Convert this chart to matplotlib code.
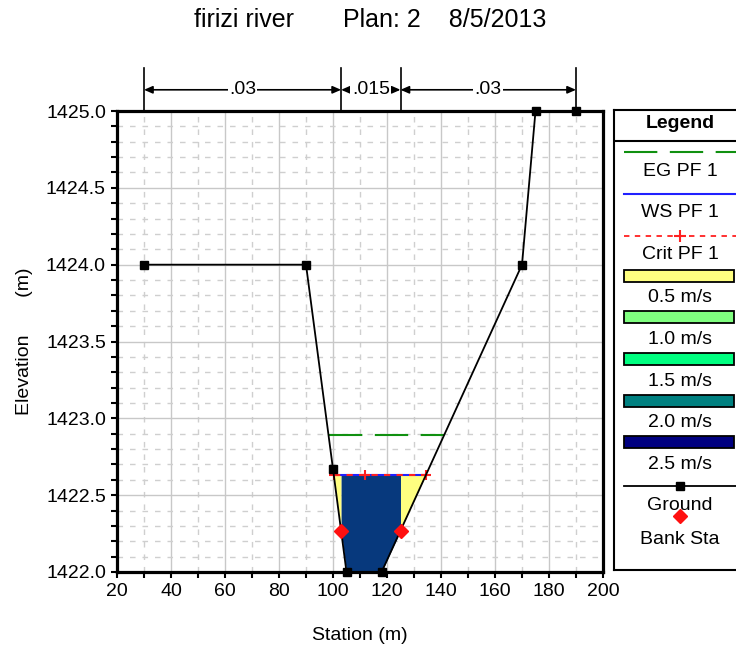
import numpy as np
import matplotlib.pyplot as plt
import matplotlib.transforms as mtransforms
from matplotlib.patches import Rectangle

plt.rcParams['font.family'] = ['Liberation Sans', 'DejaVu Sans']

# cross section data (station m, elevation m)
ground_x = [30, 90, 100, 105, 118, 170, 175, 190]
ground_y = [1424.0, 1424.0, 1422.67, 1422.0, 1422.0, 1424.0, 1425.0, 1425.0]
bank_x = [103, 125]
eg_elev = 1422.89
ws_elev = 1422.63
crit_elev = 1422.63
crit_marks = [112]
n_values = ['.03', '.015', '.03']

legend_labels = ['EG PF 1', 'WS PF 1', 'Crit PF 1', '0.5 m/s', '1.0 m/s',
                 '1.5 m/s', '2.0 m/s', '2.5 m/s', 'Ground', 'Bank Sta']
vel_colors = ['#ffff80', '#80ff80', '#00ff80', '#008080', '#000080']
channel_color = '#07397d'

gx = np.array(ground_x, dtype=float)
gy = np.array(ground_y, dtype=float)
bank_y = np.interp(bank_x, gx, gy)


def crossings(level):
    xs = []
    for i in range(len(gx) - 1):
        y0, y1 = gy[i], gy[i + 1]
        if (y0 - level) * (y1 - level) < 0:
            xs.append(gx[i] + (level - y0) / (y1 - y0) * (gx[i + 1] - gx[i]))
    return min(xs), max(xs)


def water_fill(ax, xa, xb, level, color):
    xs = np.concatenate([[xa], gx[(gx > xa) & (gx < xb)], [xb]])
    ys = np.minimum(np.interp(xs, gx, gy), level)
    ax.fill_between(xs, ys, level, color=color, lw=0, zorder=2)


fig = plt.figure(figsize=(7.36, 6.49), dpi=100)
ax = fig.add_axes([117 / 736, 77 / 649, 486 / 736, 461 / 649])

ws_l, ws_r = crossings(ws_elev)
eg_l, eg_r = crossings(eg_elev)

# velocity distribution fills
water_fill(ax, ws_l, bank_x[0], ws_elev, vel_colors[0])
water_fill(ax, bank_x[0], bank_x[1], ws_elev, channel_color)
water_fill(ax, bank_x[1], ws_r, ws_elev, vel_colors[0])

# EG, WS, crit lines
ax.plot([eg_l, eg_r], [eg_elev, eg_elev], color='#109010', lw=1.5,
        dashes=(16, 6), zorder=3)
ax.plot([ws_l, ws_r], [ws_elev, ws_elev], color='#2020ff', lw=1.5, zorder=3)
ax.plot([ws_l, ws_r], [crit_elev, crit_elev], color='#ff2020', lw=1.5,
        dashes=(3, 3), zorder=4)
ax.plot([ws_l] + crit_marks + [ws_r], [crit_elev] * (len(crit_marks) + 2),
        ls='none', marker='+', ms=7, mew=1.5, color='#ff2020', zorder=4)

# ground and bank stations
ax.plot(gx, gy, color='black', lw=1.3, marker='s', ms=6, zorder=5, clip_on=False)
ax.plot(bank_x, bank_y, ls='none', marker='D', ms=7, color='#ff1010',
        zorder=6, clip_on=False)

ax.set_xlim(20, 200)
ax.set_ylim(1422.0, 1425.0)
ax.set_xticks(np.arange(20, 201, 20))
ax.set_xticks(np.arange(20, 201, 10), minor=True)
ax.set_yticks(np.arange(1422.0, 1425.01, 0.5))
ax.set_yticks(np.arange(1422.0, 1425.01, 0.1), minor=True)
ax.set_yticklabels([f'{v:.1f}' for v in np.arange(1422.0, 1425.01, 0.5)])
ax.grid(True, which='major', color='#c8c8c8', lw=1.0, ls='-', zorder=0)
ax.grid(True, which='minor', color='#cfcfcf', lw=1.0, ls=(0, (4, 5)), zorder=0)
ax.set_axisbelow(True)
ax.tick_params(which='both', direction='out', length=4, width=1.5,
               labelsize=14, pad=4)
for s in ax.spines.values():
    s.set_linewidth(2.3)

# Manning's n annotation above the plot
trans = mtransforms.blended_transform_factory(ax.transData, ax.transAxes)
n_breaks = [gx[0], bank_x[0], bank_x[1], gx[-1]]
for xb in n_breaks:
    ax.plot([xb, xb], [1.0, 1.093], color='black', lw=1.2, transform=trans,
            clip_on=False)
for i, lab in enumerate(n_values):
    xa, xb = n_breaks[i], n_breaks[i + 1]
    ax.annotate('', xy=(xa, 1.046), xytext=(xb, 1.046), xycoords=trans,
                textcoords=trans,
                arrowprops=dict(arrowstyle='<|-|>,head_length=0.5,head_width=0.22',
                                color='black', lw=1.2, shrinkA=0, shrinkB=0))
    ax.text((xa + xb) / 2, 1.046, lab, transform=trans, ha='center',
            va='center', fontsize=14,
            bbox=dict(facecolor='white', edgecolor='none', pad=1))

fig.text(370 / 736, 1 - 20 / 649, 'firizi river       Plan: 2    8/5/2013',
         ha='center', va='center', fontsize=18)
fig.text(360 / 736, 1 - 636 / 649, 'Station (m)', ha='center', va='center',
         fontsize=14)
fig.text(25 / 736, 1 - 341 / 649, 'Elevation       (m)', ha='center',
         va='center', rotation=90, fontsize=14)

# legend box, drawn in pixel-like units
lax = fig.add_axes([614 / 736, 79 / 649, 124 / 736, 460 / 649])
lax.set_xlim(0, 124)
lax.set_ylim(460, 0)
lax.set_xticks([])
lax.set_yticks([])
for s in lax.spines.values():
    s.set_linewidth(1.5)
lax.axhline(31, color='black', lw=1.5)
cx = 66
lax.text(cx, 14, 'Legend', ha='center', va='center', fontsize=14,
         fontweight='bold')

line_y = [41.7, 84, 125.7]
text_y = [61, 102.5, 144.5, 187.5, 229.5, 272, 312.5, 354.5, 396, 429.5]
lax.plot([10, 124], [line_y[0]] * 2, color='#109010', lw=1.5, dashes=(16, 6))
lax.plot([10, 124], [line_y[1]] * 2, color='#2020ff', lw=1.5)
lax.plot([10, 124], [line_y[2]] * 2, color='#ff2020', lw=1.3, dashes=(3, 3))
lax.plot([cx], [line_y[2]], marker='+', ms=8, mew=1.5, color='#ff2020')
rect_y = [165.7, 207, 249, 290.7, 332]
for ry, c in zip(rect_y, vel_colors):
    lax.add_patch(Rectangle((10, ry - 6), 110, 12, facecolor=c,
                            edgecolor='black', lw=1.3))
lax.plot([10, 124], [375.7] * 2, color='black', lw=1.3)
lax.plot([cx], [375.7], marker='s', ms=6, color='black')
lax.plot([cx], [405.7], marker='D', ms=7, color='#ff1010')
for ty, lab in zip(text_y, legend_labels):
    lax.text(cx, ty, lab, ha='center', va='center', fontsize=14)

fig.savefig('out.png', dpi=100)
